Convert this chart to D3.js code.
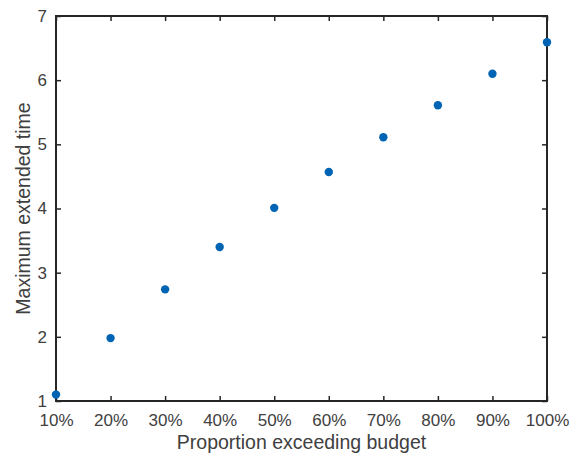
<!DOCTYPE html>
<html>
<head>
<meta charset="utf-8">
<script src="https://cdn.jsdelivr.net/npm/d3@7"></script>
<style>
  html, body { margin: 0; padding: 0; background: #fff; }
  svg { display: block; }
  text { font-family: "Liberation Sans", Arial, sans-serif; fill: #404040; }
</style>
</head>
<body>
<svg id="chart" width="577" height="454"></svg>
<script>
// Share of tasks exceeding budget vs. the maximum extended time
const proportions = [0.1, 0.2, 0.3, 0.4, 0.5, 0.6, 0.7, 0.8, 0.9, 1.0];
const maxExtendedTime = [1.10, 1.98, 2.74, 3.40, 4.01, 4.57, 5.11, 5.61, 6.10, 6.59];
const xTicks = [0.1, 0.2, 0.3, 0.4, 0.5, 0.6, 0.7, 0.8, 0.9, 1.0];
const yTicks = [1, 2, 3, 4, 5, 6, 7];
const xLabel = "Proportion exceeding budget";
const yLabel = "Maximum extended time";

const svg = d3.select("#chart");
const plot = { left: 56, right: 547, top: 16, bottom: 401 };

const x = d3.scaleLinear().domain([0.1, 1.0]).range([plot.left, plot.right]);
const y = d3.scaleLinear().domain([1, 7]).range([plot.bottom, plot.top]);

const axisColor = "#262626";
const tickLen = 5;
const fmt = d3.format(".0%");

// Bottom and left axes with inward ticks
const gx = svg.append("g").attr("transform", `translate(0,${plot.bottom})`)
  .call(d3.axisBottom(x).tickValues(xTicks).tickFormat(fmt).tickSizeInner(-tickLen).tickSizeOuter(0).tickPadding(13));
const gy = svg.append("g").attr("transform", `translate(${plot.left},0)`)
  .call(d3.axisLeft(y).tickValues(yTicks).tickFormat(d3.format("d")).tickSizeInner(-tickLen).tickSizeOuter(0).tickPadding(9));
// Mirrored ticks on top and right
const gt = svg.append("g").attr("transform", `translate(0,${plot.top})`)
  .call(d3.axisTop(x).tickValues(xTicks).tickFormat("").tickSizeInner(-tickLen).tickSizeOuter(0));
const gr = svg.append("g").attr("transform", `translate(${plot.right},0)`)
  .call(d3.axisRight(y).tickValues(yTicks).tickFormat("").tickSizeInner(-tickLen).tickSizeOuter(0));

[gx, gy, gt, gr].forEach(g => {
  g.select(".domain").remove();
  g.selectAll(".tick line").attr("stroke", axisColor).attr("stroke-width", 1.5);
  g.selectAll(".tick text").attr("font-size", 17).attr("fill", "#404040")
    .attr("font-family", "'Liberation Sans', Arial, sans-serif");
});
gx.selectAll(".tick text").attr("dy", "0.71em");

// Box
svg.append("rect")
  .attr("x", plot.left).attr("y", plot.top)
  .attr("width", plot.right - plot.left).attr("height", plot.bottom - plot.top)
  .attr("fill", "none").attr("stroke", axisColor).attr("stroke-width", 2);

// Points
svg.append("g").selectAll("circle")
  .data(proportions.map((p, i) => [p, maxExtendedTime[i]]))
  .join("circle")
  .attr("cx", d => x(d[0]))
  .attr("cy", d => y(d[1]))
  .attr("r", 4.2)
  .attr("fill", "#0064B4");

// Axis titles
svg.append("text")
  .attr("x", (plot.left + plot.right) / 2).attr("y", 449)
  .attr("text-anchor", "middle").attr("font-size", 19.5)
  .text(xLabel);
svg.append("text")
  .attr("transform", `translate(30,${(plot.top + plot.bottom) / 2}) rotate(-90)`)
  .attr("text-anchor", "middle").attr("font-size", 19.5)
  .text(yLabel);
</script>
</body>
</html>
